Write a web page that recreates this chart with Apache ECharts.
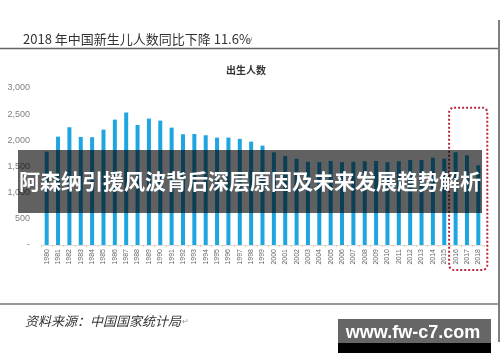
<!DOCTYPE html>
<html>
<head>
<meta charset="utf-8">
<script src="https://cdn.jsdelivr.net/npm/echarts@6/dist/echarts.min.js"></script>
<style>
html,body{margin:0;padding:0;background:#fff;}
#chart{width:500px;height:362px;}
</style>
</head>
<body>
<div id="chart"></div>
<script>
var years = ['1980','1981','1982','1983','1984','1985','1986','1987','1988','1989',
  '1990','1991','1992','1993','1994','1995','1996','1997','1998','1999',
  '2000','2001','2002','2003','2004','2005','2006','2007','2008','2009',
  '2010','2011','2012','2013','2014','2015','2016','2017','2018'];
var births = [1784,2070,2250,2065,2060,2205,2396,2530,2294,2415,
  2377,2243,2116,2122,2097,2052,2052,2027,1975,1899,
  1770,1702,1647,1590,1584,1606,1582,1590,1600,1606,
  1582,1600,1625,1625,1669,1650,1772,1715,1524];
var yTicks = [0,500,1000,1500,2000,2500,3000];
var headline = '2018 年中国新生儿人数同比下降 11.6%';
var chartTitle = '出生人数';
var sourceNote = '资料来源：中国国家统计局';
var bannerText = '阿森纳引援风波背后深层原因及未来发展趋势解析';
var watermark = 'www.fw-c7.com';
var highlightYears = ['2016','2018'];
var highlightTop = 2625;

var chart = echarts.init(document.getElementById('chart'));
var option = {
  animation: false,
  backgroundColor: '#fff',
  grid: {left: 41, right: 16, top: 88, bottom: 117},
  xAxis: {
    type: 'category',
    data: years,
    axisLine: {show: true, lineStyle: {color: '#dcdcdc', width: 1}},
    axisTick: {show: true, length: 2, lineStyle: {color: '#f0c890'}},
    axisLabel: {rotate: 90, interval: 0, fontSize: 7, color: '#666', margin: 4,
      fontFamily: 'Liberation Sans'}
  },
  yAxis: {
    type: 'value',
    min: yTicks[0], max: yTicks[yTicks.length-1], interval: 500,
    splitLine: {show: false},
    axisLine: {show: false},
    axisTick: {show: false},
    axisLabel: {fontSize: 9, color: '#808080', margin: 11, fontFamily: 'Liberation Sans',
      formatter: function (v) { return v === 0 ? '-' : v.toLocaleString('en-US'); }}
  },
  series: [{
    type: 'bar',
    data: births,
    barWidth: 4,
    itemStyle: {color: '#1fa5df'}
  }],
  graphic: []
};
chart.setOption(option);

function buildGraphics() {
  var p1 = chart.convertToPixel({xAxisIndex: 0, yAxisIndex: 0}, [highlightYears[0], highlightTop]);
  var p2 = chart.convertToPixel({xAxisIndex: 0, yAxisIndex: 0}, [highlightYears[1], 0]);
  var g = [
    {type: 'text', left: 23, top: 33, z: 10,
      style: {text: headline, fontSize: 13, fill: '#333', fontFamily: 'Noto Sans CJK SC'}},
    {type: 'text', left: 246, top: 36, z: 10,
      style: {text: '↵', fontSize: 9, fill: '#999'}},
    {type: 'line', z: 10, shape: {x1: 0, y1: 48.5, x2: 498, y2: 48.5},
      style: {stroke: '#666', lineWidth: 1.5}},
    {type: 'line', z: 10, shape: {x1: 0, y1: 304, x2: 498, y2: 304},
      style: {stroke: '#777', lineWidth: 1.5}},
    {type: 'line', z: 10, shape: {x1: 499, y1: 20, x2: 499, y2: 342},
      style: {stroke: '#555', lineWidth: 1.5}},
    {type: 'text', left: 226, top: 65, z: 10,
      style: {text: chartTitle, fontSize: 10, fontWeight: 'bold', fill: '#333', fontFamily: 'Noto Sans CJK SC'}},
    {type: 'text', left: 25, top: 315, z: 10,
      style: {text: sourceNote, fontSize: 13, fontStyle: 'italic', fill: '#333', fontFamily: 'Noto Sans CJK SC'}},
    {type: 'text', left: 182, top: 318, z: 10,
      style: {text: '↵', fontSize: 8, fill: '#999'}},
    {type: 'rect', z: 20,
      shape: {x: p1[0] - 6.5, y: p1[1], width: (p2[0] + 9) - (p1[0] - 6.5), height: (p2[1] + 25) - p1[1], r: 5},
      style: {fill: 'none', stroke: '#b5283f', lineWidth: 2, lineDash: [2, 2]}},
    {type: 'rect', z: 30, shape: {x: 18, y: 150, width: 464, height: 63},
      style: {fill: 'rgba(0,0,0,0.62)'}},
    {type: 'text', z: 31, x: 250, y: 181,
      style: {text: bannerText, fontSize: 21, fontWeight: 'bold', fill: '#fff',
        align: 'center', verticalAlign: 'middle', fontFamily: 'Noto Sans CJK SC'}},
    {type: 'rect', z: 30, shape: {x: 338, y: 319, width: 153, height: 24},
      style: {fill: '#666'}},
    {type: 'rect', z: 30, shape: {x: 338, y: 343, width: 153, height: 10},
      style: {fill: '#000'}},
    {type: 'text', z: 31, x: 413, y: 333,
      style: {text: watermark, fontSize: 18, fontWeight: 'bold', fill: '#fff',
        align: 'center', verticalAlign: 'middle', fontFamily: 'Liberation Sans'}}
  ];
  chart.setOption({graphic: g});
}
buildGraphics();
</script>
</body>
</html>
